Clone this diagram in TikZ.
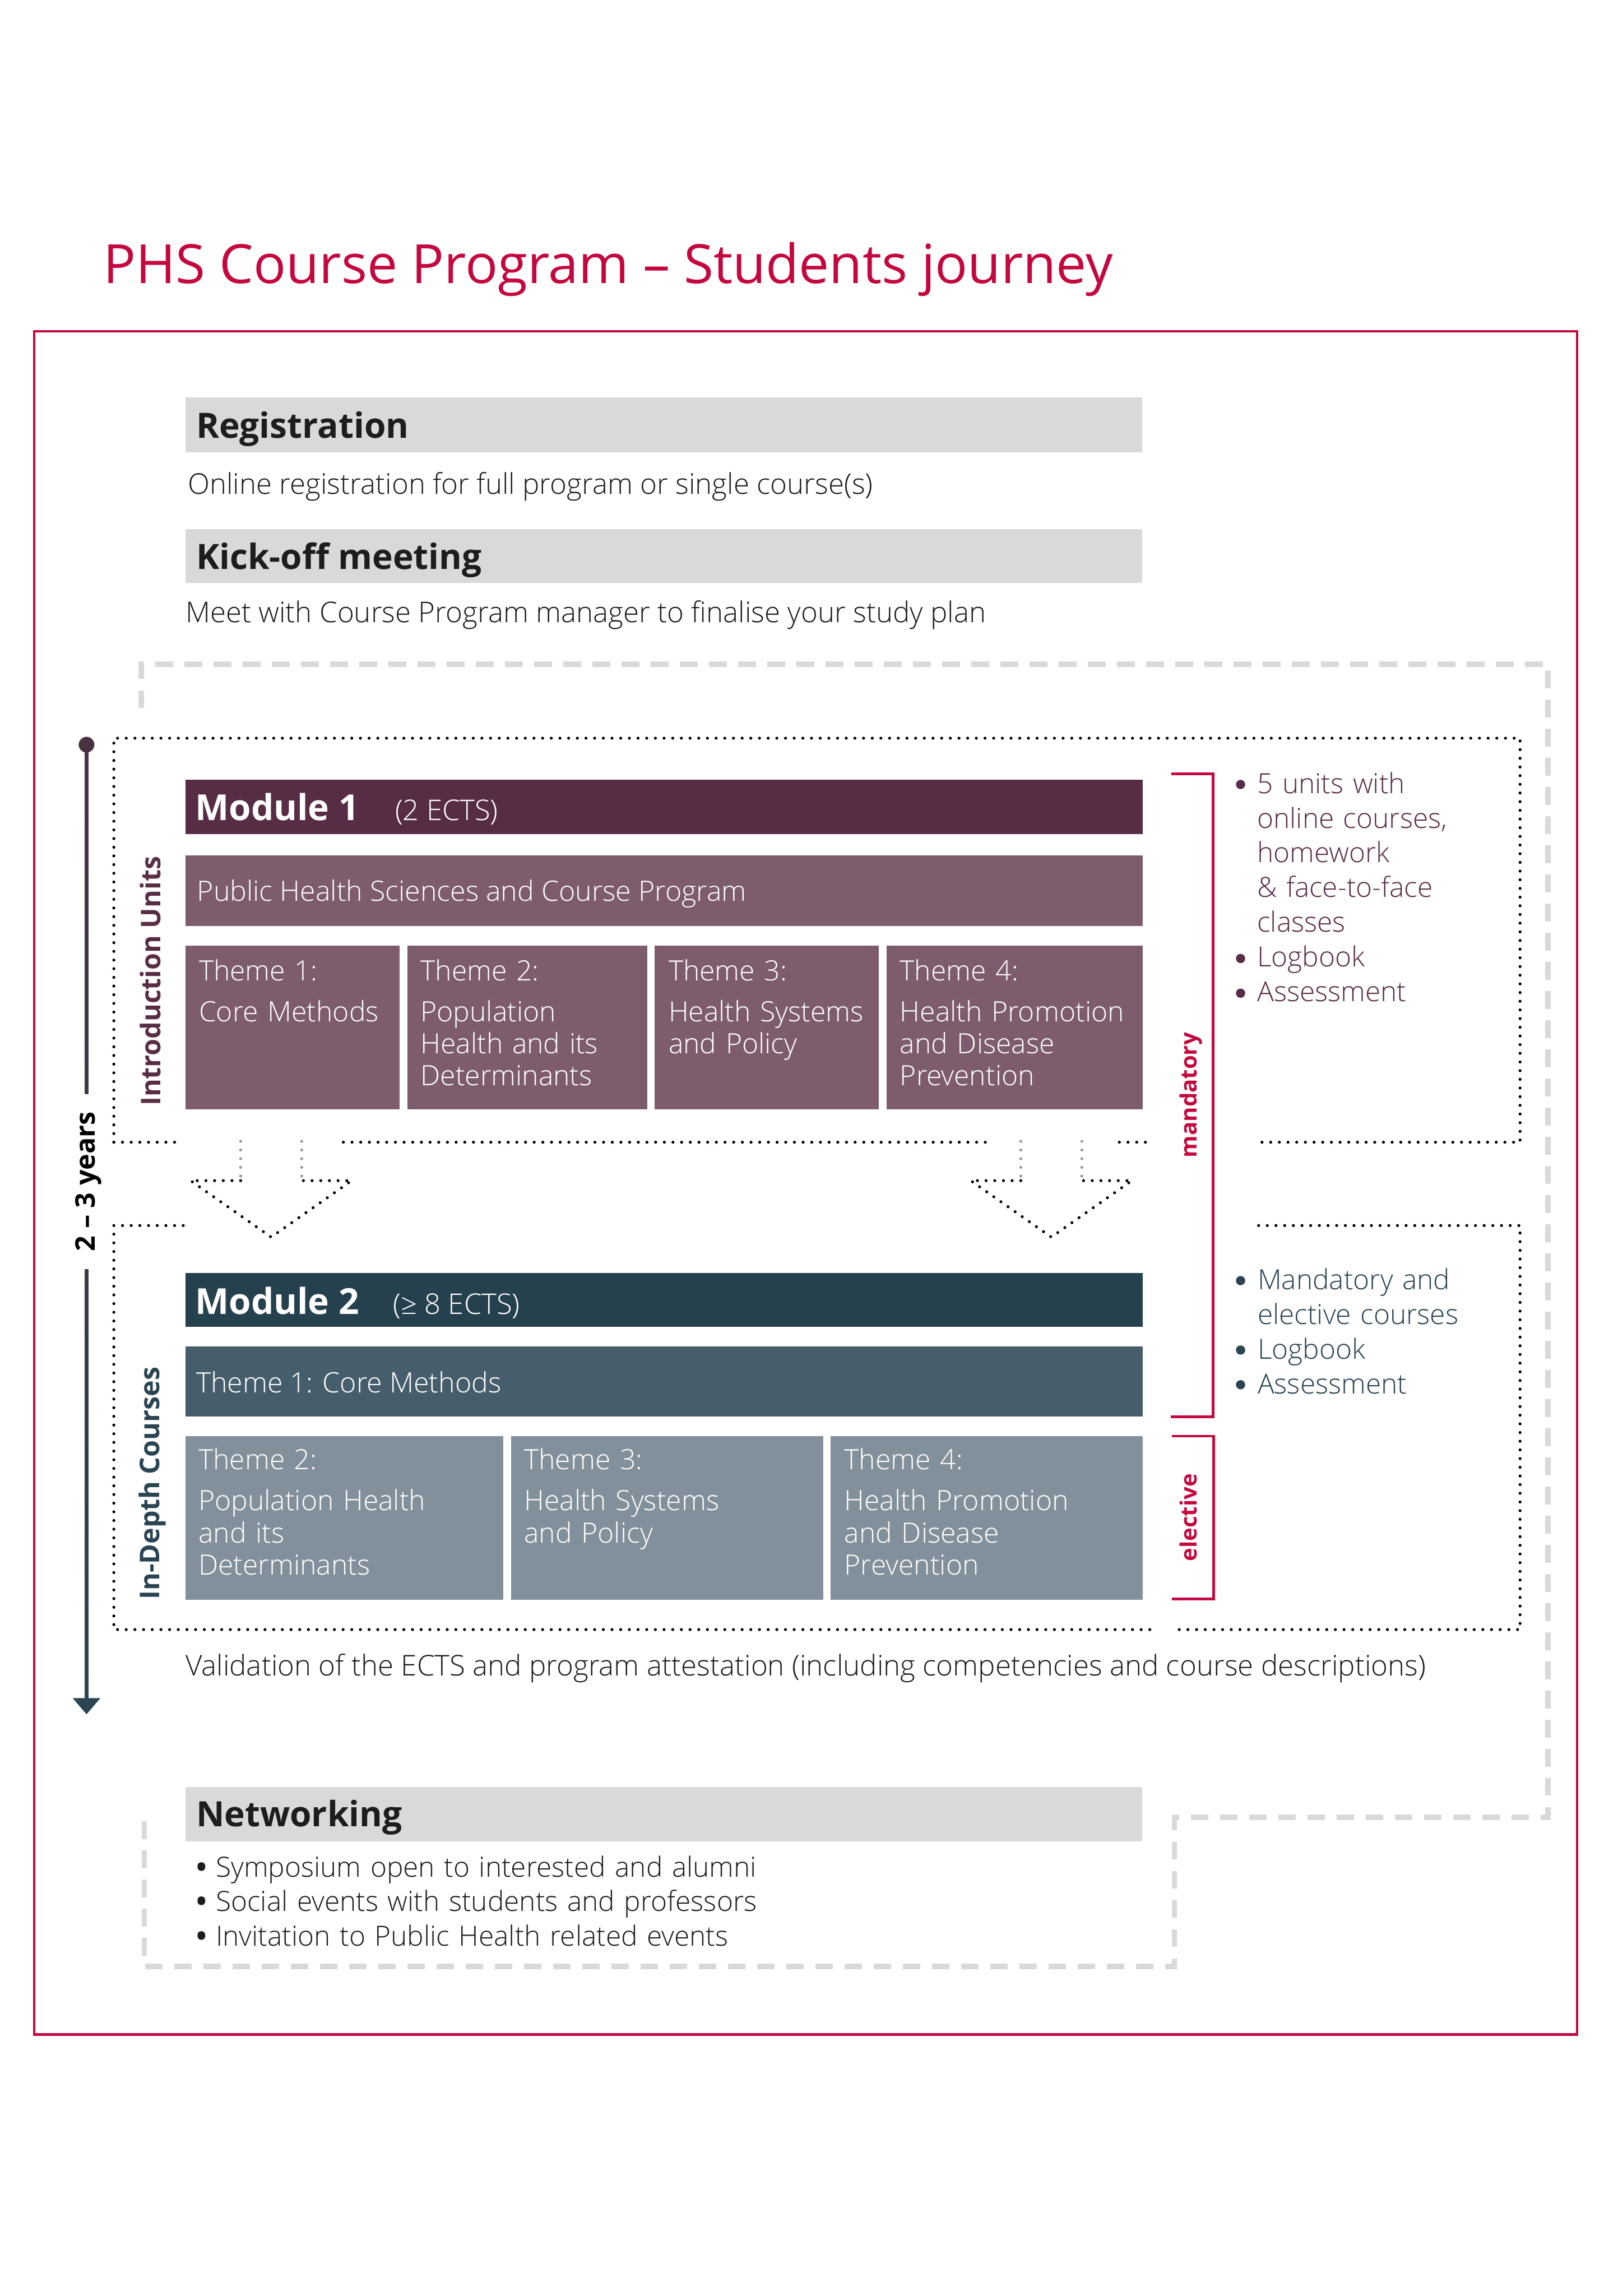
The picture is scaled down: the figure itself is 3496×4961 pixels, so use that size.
\documentclass[tikz,border=0pt]{standalone}
\usepackage{fontspec}
\IfFontExistsTF{Open Sans Light}
 {\setmainfont{Open Sans}[UprightFont=* Light,BoldFont=* Bold]}
 {\setmainfont{Open Sans}}
\newfontfamily\titlefont{Open Sans}
\usetikzlibrary{arrows.meta,calc,positioning}
\definecolor{jrRed}{HTML}{C4073F}
\definecolor{jrGray}{HTML}{D9D9D9}
\definecolor{jrInk}{HTML}{1D1D1B}
\definecolor{mOneDark}{HTML}{572D46}
\definecolor{mOneMid}{HTML}{7D5D6D}
\definecolor{mOneText}{HTML}{5A2D47}
\definecolor{mTwoDark}{HTML}{26414E}
\definecolor{mTwoMid}{HTML}{465D6B}
\definecolor{mTwoLight}{HTML}{82909B}
\definecolor{mTwoText}{HTML}{2A4452}
\definecolor{lineTop}{HTML}{4A3243}
\definecolor{lineMid}{HTML}{3A3946}
\tikzset{
 journey/.style={x=.06mm,y=-.06mm,line join=miter},
 block/.style 2 args={rectangle,anchor=north west,inner sep=0pt,outer sep=0pt,
   minimum width=#1*.06mm,minimum height=#2*.06mm},
 txt/.style={anchor=base west,inner sep=0pt,outer sep=0pt,text=jrInk,font=\fontsize{10.55}{12.8}\selectfont},
 heading/.style={txt,font=\bfseries\fontsize{12.85}{15}\selectfont},
 modname/.style={txt,text=white,font=\bfseries\fontsize{13.2}{15}\selectfont},
 modects/.style={txt,text=white,font=\fontsize{10.5}{12}\selectfont},
 bartext/.style={txt,text=white,font=\fontsize{10.35}{12}\selectfont},
 themetext/.style={txt,text=white,text width=700*.06mm,align=left,font=\fontsize{10.3}{11.8}\selectfont},
 bulletlist/.style={txt,text width=1500*.06mm,align=left,font=\fontsize{10.25}{12.8}\selectfont},
 sidelabel/.style={anchor=base,rotate=90,inner sep=0pt,font=\bfseries\fontsize{10}{11}\selectfont},
 bracelabel/.style={sidelabel,text=jrRed,font=\bfseries\fontsize{8.3}{10}\selectfont},
 bulletdot/.style={circle,inner sep=0pt,minimum size=20*.06mm},
 dots/.style={draw=black,line width=1.1pt,line cap=round,dash pattern=on 0pt off 3.2pt},
 greydots/.style={dots,draw=black!40},
 greydash/.style={draw=jrGray,line width=2pt,dash pattern=on 6.5pt off 4.25pt},
 brace/.style={draw=jrRed,line width=1pt},
 frame/.style={draw=jrRed,line width=.9pt}
}
\newcommand{\hollowDown}[1]{%
 \begin{scope}[shift={(#1,0)}]
 \draw[greydots] (-66,2466)--(-66,2551); \draw[greydots] (66,2466)--(66,2551);
 \draw[dots] (-66,2551)--(-174,2551)--(0,2673)--(174,2551)--(66,2551);
 \end{scope}}

\begin{document}
\begin{tikzpicture}[journey]
 \useasboundingbox (0,0) rectangle (3496,4961);
 \node[txt,text=jrRed,font=\titlefont\fontsize{19.95}{24}\selectfont] (title) at (223,612) {PHS Course Program – Students journey};
 \draw[frame] (74,716) rectangle (3408,4396);
 \draw[greydash] (305,1530)--(305,1435)--(3345,1435)--(3345,3927)--(2538,3927)--(2538,4249)--(312,4249)--(312,3927);

 \node[block={2067}{118},fill=jrGray] (regBox) at (401,859) {};
 \node[heading] (regHead) at (424,946) {Registration};
 \node[txt] (regNote) at (406,1068) {Online registration for full program or single course(s)};
 \node[block={2067}{117},fill=jrGray] (kickBox) at (401,1143) {};
 \node[heading] (kickHead) at (424,1230) {Kick-off meeting};
 \node[txt] (kickNote) at (401,1345) {Meet with Course Program manager to finalise your study plan};

 \draw[dots] (246,2468)--(246,1595)--(3285,1595)--(3285,2468)--(2719,2468);
 \draw[dots] (246,2468)--(395,2468); \draw[dots] (742,2468)--(2135,2468); \draw[dots] (2419,2468)--(2492,2468);
 \draw[dots] (396,2648)--(246,2648)--(246,3521)--(2502,3521);
 \draw[dots] (2720,2648)--(3285,2648)--(3285,3521)--(2533,3521);
 \hollowDown{586}
 \hollowDown{2272}

 \node[block={2068}{117},fill=mOneDark] (modOne) at (401,1685) {};
 \node[modname] (modOneName) at (422,1773) {Module 1};
 \node[modects] (modOneEcts) at (854,1773) {(2 ECTS)};
 \node[block={2068}{153},fill=mOneMid] (phsBar) at (401,1848) {};
 \node[bartext] (phsText) at (426,1947) {Public Health Sciences and Course Program};
 \node[block={463}{354},fill=mOneMid] (iThemeA) at (401,2043) {};
 \node[block={519}{354},fill=mOneMid] (iThemeB) at (880,2043) {};
 \node[block={484}{354},fill=mOneMid] (iThemeC) at (1415,2043) {};
 \node[block={553}{354},fill=mOneMid] (iThemeD) at (1916,2043) {};
 \node[themetext] (iTextA) at (430,2119) {Theme 1:\\[3.3pt]Core Methods};
 \node[themetext] (iTextB) at (909,2119) {Theme 2:\\[3.3pt]Population\\Health and its\\Determinants};
 \node[themetext] (iTextC) at (1445,2119) {Theme 3:\\[3.3pt]Health Systems\\and Policy};
 \node[themetext] (iTextD) at (1945,2119) {Theme 4:\\[3.3pt]Health Promotion\\and Disease\\Prevention};

 \node[block={2068}{117},fill=mTwoDark] (modTwo) at (401,2750) {};
 \node[modname] (modTwoName) at (422,2839) {Module 2};
 \node[modects] (modTwoEcts) at (850,2839) {(≥ 8 ECTS)};
 \node[block={2068}{152},fill=mTwoMid] (coreBar) at (401,2909) {};
 \node[bartext] (coreText) at (424,3009) {Theme 1: Core Methods};
 \node[block={687}{354},fill=mTwoLight] (dThemeB) at (401,3103) {};
 \node[block={675}{354},fill=mTwoLight] (dThemeC) at (1104,3103) {};
 \node[block={674}{354},fill=mTwoLight] (dThemeD) at (1795,3103) {};
 \node[themetext] (dTextB) at (429,3175) {Theme 2:\\[3.4pt]Population Health\\and its\\Determinants};
 \node[themetext] (dTextC) at (1133,3175) {Theme 3:\\[3.4pt]Health Systems\\and Policy};
 \node[themetext] (dTextD) at (1825,3175) {Theme 4:\\[3.4pt]Health Promotion\\and Disease\\Prevention};

 \node[sidelabel,text=mOneText] (introLbl) at (347,2120) {Introduction Units};
 \node[sidelabel,text=mTwoText] (depthLbl) at (345,3205) {In-Depth Courses};

 \draw[brace] (2531,1672)-|(2622,3061)--(2530,3061);
 \draw[brace] (2533,3103)-|(2623,3455)--(2533,3455);
 \node[bracelabel] (mandLbl) at (2587,2366) {mandatory};
 \node[bracelabel] (electLbl) at (2587,3279) {elective};
 \node[bulletlist,text=mOneText] (introList) at (2717,1714) {5 units with\\online courses,\\homework\\\& face-to-face\\classes\\Logbook\\Assessment};
 \node[bulletlist,text=mTwoText] (depthList) at (2718,2786) {Mandatory and\\elective courses\\Logbook\\Assessment};
 \foreach \y [count=\i] in {1695,2071,2146}
  \node[bulletdot,fill=mOneText] (introDot\i) at (2681,\y) {};
 \foreach \y [count=\i] in {2767,2917,2992}
  \node[bulletdot,fill=mTwoText] (depthDot\i) at (2681,\y) {};

 \coordinate (tTop) at (187,1609);
 \coordinate (tGapA) at (187,2364);
 \coordinate (tGapB) at (187,2743);
 \coordinate (tBase) at (187,3669);
 \coordinate (tTip) at (187,3704);
 \shade[top color=lineTop,bottom color=lineMid] ($(tTop)+(-3.5,0)$) rectangle ($(tGapA)+(3.5,0)$);
 \shade[top color=lineMid,bottom color=mTwoText] ($(tGapB)+(-3.5,0)$) rectangle ($(tBase)+(3.5,0)$);
 \fill[lineTop] (tTop) circle[radius=17];
 \fill[mTwoText] ($(tBase)+(-30,0)$)--($(tBase)+(30,0)$)--(tTip)--cycle;
 \node[sidelabel,text=black] (years) at (205,2553) {2 – 3 years};

 \node[txt] (valid) at (401,3621) {Validation of the ECTS and program attestation (including competencies and course descriptions)};
 \node[block={2067}{118},fill=jrGray] (netBox) at (401,3861) {};
 \node[heading] (netHead) at (424,3946) {Networking};
 \node[bulletlist] (netList) at (424,4055) {{\bfseries\textbullet}\ Symposium open to interested and alumni\\{\bfseries\textbullet}\ Social events with students and professors\\{\bfseries\textbullet}\ Invitation to Public Health related events};
\end{tikzpicture}
\end{document}
